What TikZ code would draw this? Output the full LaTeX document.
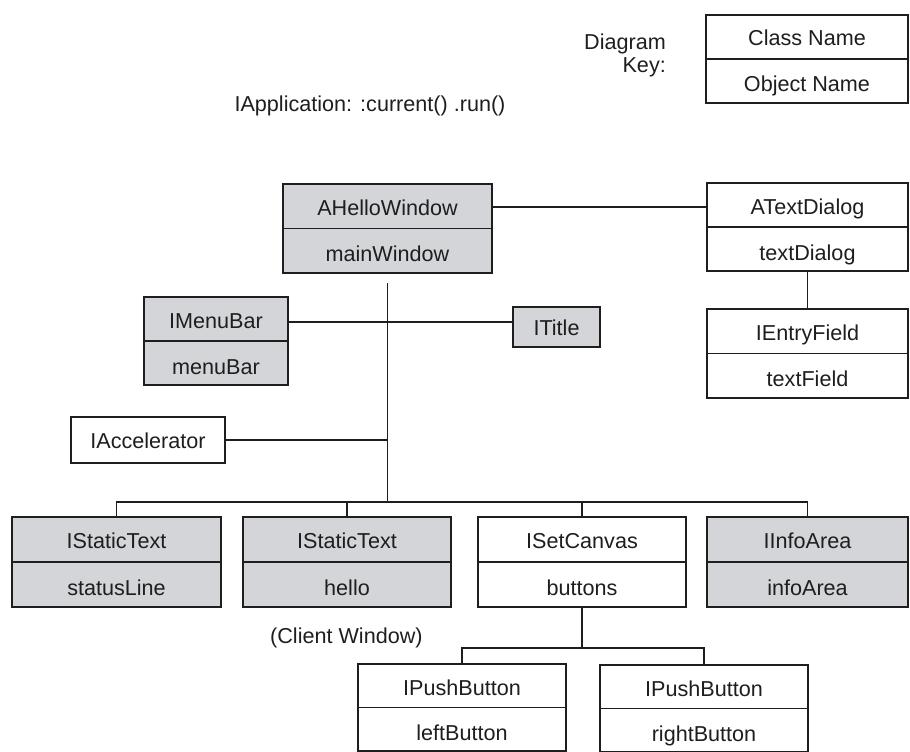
\documentclass[tikz,border=0pt]{standalone}
\usepackage{fontspec}
\setmainfont{Liberation Sans}
\usetikzlibrary{calc}

\definecolor{objgray}{RGB}{212,213,216}
\definecolor{ink}{RGB}{30,30,30}

\tikzset{
  frame/.style={draw=ink, line width=2pt, inner sep=0pt, anchor=north west},
  shaded/.style={fill=objgray},
  plain/.style={fill=white},
  sep/.style={draw=ink, line width=1.1pt},
  wire/.style={draw=ink, line width=1.1pt},
  txt/.style={inner sep=0pt, anchor=base, text=ink, font=\fontsize{21.6}{26}\selectfont},
}

% two-part object box: class name above, object name below
% #1 name, #2 x, #3 y, #4 width, #5 height, #6 fill style, #7 class, #8 object
\newcommand\objpair[8]{%
  \node[frame,#6,minimum width=#4pt,minimum height=#5pt] (#1) at (#2,#3) {};
  \draw[sep] (#1.west) -- (#1.east);
  \node[txt] (#1-cls) at ($(#1.north)+(0,32)$) {#7};
  \node[txt] (#1-obj) at ($(#1.center)+(0,33)$) {#8};
}
% one-part box holding only a class name
\newcommand\objsingle[7]{%
  \node[frame,#6,minimum width=#4pt,minimum height=#5pt] (#1) at (#2,#3) {};
  \node[txt] (#1-cls) at ($(#1.center)+(0,8)$) {#7};
}

\begin{document}
\begin{tikzpicture}[x=1pt,y=-1pt]
\useasboundingbox (0,0) rectangle (910,752);

% key
\node[txt, anchor=base east] (keya) at (666,50) {Diagram};
\node[txt, anchor=base east] (keyb) at (666,72) {Key:};
\objpair{key}{705}{14}{202}{88}{plain}{Class Name}{Object Name}

\node[txt] (app) at (370,111) {IApplication: :current() .run()};

% objects
\objpair{hw}{282}{183}{209}{89}{shaded}{AHelloWindow}{mainWindow}
\objpair{td}{706}{182}{201}{88}{plain}{ATextDialog}{textDialog}
\objpair{ef}{706}{308}{201}{89}{plain}{IEntryField}{textField}
\objpair{mb}{143}{296}{144}{88}{shaded}{IMenuBar}{menuBar}
\objsingle{tt}{512}{306}{87}{40}{shaded}{ITitle}
\objsingle{ac}{70}{416}{154}{46}{plain}{IAccelerator}

\objpair{st}{11}{516}{209}{90}{shaded}{IStaticText}{statusLine}
\objpair{he}{242}{516}{208}{90}{shaded}{IStaticText}{hello}
\objpair{sc}{477}{516}{208}{90}{plain}{ISetCanvas}{buttons}
\objpair{ia}{706}{516}{201}{90}{shaded}{IInfoArea}{infoArea}

\node[txt, anchor=base west] (client) at (270,643) {(Client Window)};

\objpair{pl}{357}{663}{208}{87}{plain}{IPushButton}{leftButton}
\objpair{pr}{599}{664}{208}{87}{plain}{IPushButton}{rightButton}

% connectors
\draw[wire] ($(hw.north east)+(0,24)$) coordinate (h1) -- (h1 -| td.west);
\draw[wire] (td.south) -- (ef.north);
\coordinate (bus) at ($(hw.south)+(0,228)$);
\draw[wire] ($(hw.south)+(0,9)$) -- (bus);
\draw[wire] ($(mb.north east)+(0,26)$) coordinate (m1) -- (m1 -| tt.west);
\draw[wire] (ac.east) -- (ac.east -| bus);
\draw[wire] (st.north) |- (ia.north |- bus) -- (ia.north);
\draw[wire] (he.north) -- (he.north |- bus);
\draw[wire] (sc.north) -- (sc.north |- bus);
\coordinate (pbus) at ($(sc.south)+(0,40)$);
\draw[wire] (sc.south) -- (pbus);
\draw[wire] (pl.north) |- (pr.north |- pbus) -- (pr.north);
\end{tikzpicture}
\end{document}
